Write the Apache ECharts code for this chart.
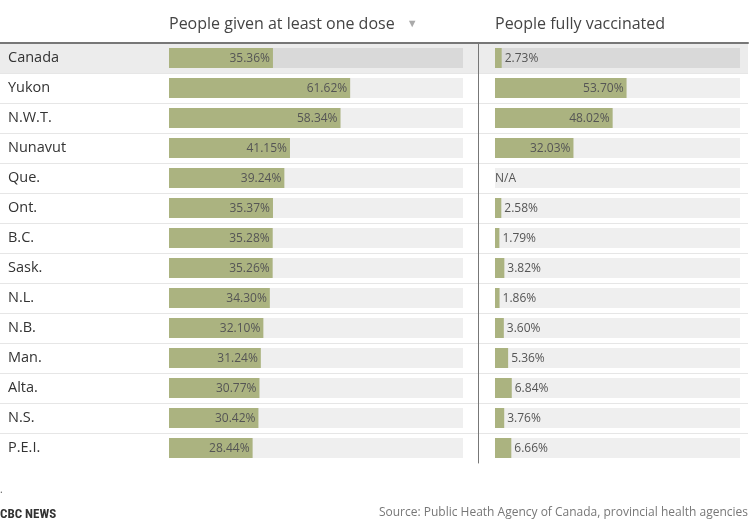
<!DOCTYPE html>
<html>
<head>
<meta charset="utf-8">
<script src="https://cdn.jsdelivr.net/npm/echarts@6/dist/echarts.min.js"></script>
<style>
  html, body { margin: 0; padding: 0; background: #fff; }
  #main { width: 756px; height: 532px; }
</style>
</head>
<body>
<div id="main"></div>
<script>
(function () {
  'use strict';

  // 数据
  var regions = ['Canada', 'Yukon', 'N.W.T.', 'Nunavut', 'Que.', 'Ont.', 'B.C.', 'Sask.',
    'N.L.', 'N.B.', 'Man.', 'Alta.', 'N.S.', 'P.E.I.'];
  var oneDose = [35.36, 61.62, 58.34, 41.15, 39.24, 35.37, 35.28, 35.26, 34.30, 32.10, 31.24, 30.77, 30.42, 28.44];
  var fullyVax = [2.73, 53.70, 48.02, 32.03, null, 2.58, 1.79, 3.82, 1.86, 3.60, 5.36, 6.84, 3.76, 6.66];
  var trackMax = 100;

  // 版式
  var FONT = '"Open Sans", sans-serif';
  var TOP = 43, ROW = 30;
  var HEIGHT = ROW * regions.length;
  var LEFT1 = 169, W1 = 294;
  var LEFT2 = 495, W2 = 245;
  var BAR = '#abb380';

  var myChart = echarts.init(document.getElementById('main'));

  function pct(v) { return v.toFixed(2) + '%'; }

  // 短条的标签放在外面
  function barData(values, width) {
    return values.map(function (v) {
      if (v == null) {
        return { value: 0, label: { show: true, position: 'right', distance: 0, formatter: 'N/A' } };
      }
      var inside = v / trackMax * width > 40;
      return {
        value: v,
        label: { position: inside ? 'insideRight' : 'right', distance: 3 }
      };
    });
  }

  function trackData() {
    return regions.map(function (r, i) {
      return { value: trackMax, itemStyle: { color: i === 0 ? '#d9d9d9' : '#efefef' } };
    });
  }

  var labelStyle = {
    show: true,
    fontFamily: FONT,
    fontSize: 12,
    color: '#555',
    offset: [0, 1],
    formatter: function (p) { return pct(p.value); }
  };

  var option = {
    animation: false,
    textStyle: { fontFamily: FONT },
    title: [
      { text: 'People given at least one dose {arrow|▼}', left: LEFT1, top: 16, padding: 0,
        textStyle: { fontSize: 16, fontWeight: 'normal', color: '#444', fontFamily: FONT,
          rich: { arrow: { fontSize: 11, color: '#aaa', padding: [0, 0, 0, 8] } } } },
      { text: 'People fully vaccinated', left: LEFT2, top: 16, padding: 0,
        textStyle: { fontSize: 16, fontWeight: 'normal', color: '#444', fontFamily: FONT } },
      { text: '.', left: 0, top: 485, padding: 0,
        textStyle: { fontSize: 10, fontWeight: 'normal', color: '#555' } },
      { text: 'CBC NEWS', left: 0, top: 508, padding: 0,
        textStyle: { fontSize: 13, fontWeight: 'bold', color: '#333', fontFamily: '"Liberation Sans Narrow", "Roboto Condensed", sans-serif' } },
      { text: 'Source: Public Heath Agency of Canada, provincial health agencies', right: 8, top: 507, padding: 0,
        textStyle: { fontSize: 12, fontWeight: 'normal', color: '#777', fontFamily: FONT } }
    ],
    graphic: [
      { type: 'rect', z: -10, shape: { x: 0, y: TOP + 1, width: 748, height: ROW - 1 },
        style: { fill: '#ececec' } }
    ],
    grid: [
      // 行分隔线：最后一行下面没有线
      { left: 0, top: TOP, width: 748, height: HEIGHT - ROW },
      { left: LEFT1, top: TOP, width: W1, height: HEIGHT },
      { left: LEFT2, top: TOP, width: W2, height: HEIGHT }
    ],
    xAxis: [
      { gridIndex: 0, type: 'value', position: 'top', min: 0, max: 1,
        axisLine: { show: true, onZero: false, lineStyle: { color: '#777', width: 2 } },
        axisTick: { show: false }, axisLabel: { show: false }, splitLine: { show: false } },
      { gridIndex: 1, type: 'value', min: 0, max: trackMax, show: false },
      { gridIndex: 2, type: 'value', min: 0, max: trackMax, show: false }
    ],
    yAxis: [
      { gridIndex: 0, type: 'category', data: regions.slice(0, -1), inverse: true,
        axisLine: { show: false }, axisTick: { show: false }, axisLabel: { show: false },
        splitLine: { show: true, interval: 0, lineStyle: { color: '#e6e6e6', width: 1 } } },
      { gridIndex: 1, type: 'category', data: regions, inverse: true,
        axisLine: { show: false }, axisTick: { show: false }, splitLine: { show: false },
        axisLabel: { align: 'left', margin: LEFT1 - 8, fontSize: 14.5, color: '#333', fontFamily: FONT,
          padding: [3, 0, 0, 0] } },
      { gridIndex: 2, type: 'category', data: regions, inverse: true, offset: LEFT2 - 478,
        axisLine: { show: true, onZero: false, lineStyle: { color: '#777', width: 1 } },
        axisTick: { show: false }, axisLabel: { show: false }, splitLine: { show: false } }
    ],
    series: [
      { name: 'track1', type: 'bar', xAxisIndex: 1, yAxisIndex: 1, barWidth: 20, barGap: '-100%',
        silent: true, data: trackData() },
      { name: 'People given at least one dose', type: 'bar', xAxisIndex: 1, yAxisIndex: 1, barWidth: 20,
        itemStyle: { color: BAR }, label: labelStyle, data: barData(oneDose, W1) },
      { name: 'track2', type: 'bar', xAxisIndex: 2, yAxisIndex: 2, barWidth: 20, barGap: '-100%',
        silent: true, data: trackData() },
      { name: 'People fully vaccinated', type: 'bar', xAxisIndex: 2, yAxisIndex: 2, barWidth: 20,
        itemStyle: { color: BAR }, label: labelStyle, data: barData(fullyVax, W2) }
    ]
  };

  myChart.setOption(option);
}());
</script>
</body>
</html>
